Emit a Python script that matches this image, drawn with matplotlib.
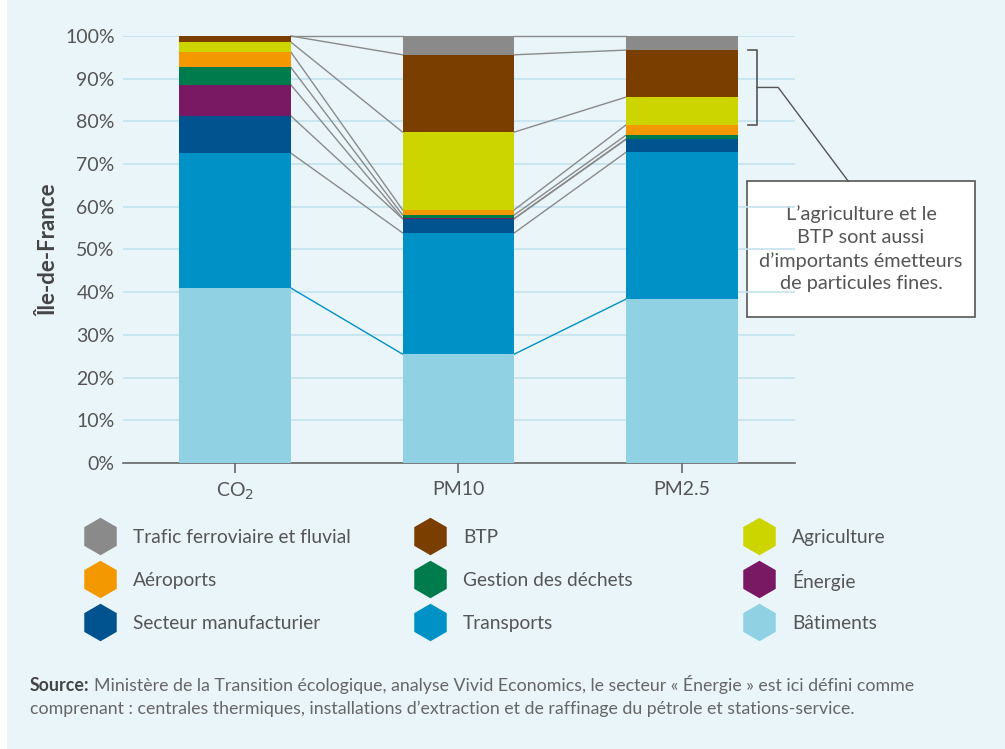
import matplotlib
matplotlib.use("Agg")
import matplotlib.pyplot as plt
import numpy as np
from matplotlib.patches import Rectangle

plt.rcParams["font.family"] = ["Lato", "DejaVu Sans"]

# data (share of emissions, %)
pollutants = ["CO$_2$", "PM10", "PM2.5"]
sectors = ["Bâtiments", "Transports", "Secteur manufacturier", "Énergie",
           "Gestion des déchets", "Aéroports", "Agriculture", "BTP",
           "Trafic ferroviaire et fluvial"]
batiments = [41.0, 25.5, 38.4]
transports = [31.6, 28.4, 34.4]
manufacturier = [8.7, 3.3, 3.0]
energie = [7.3, 0.1, 0.1]
dechets = [4.1, 0.8, 0.9]
aeroports = [3.6, 1.2, 2.4]
agriculture = [2.3, 18.2, 6.5]
btp = [1.4, 18.1, 11.0]
ferroviaire = [0.0, 4.4, 3.3]
series = [batiments, transports, manufacturier, energie, dechets,
          aeroports, agriculture, btp, ferroviaire]
colors = ["#90d1e3", "#0091c7", "#00538f", "#791863", "#007b4b",
          "#f49800", "#cdd500", "#7a3e00", "#8a8a8a"]

legend_order = [8, 7, 6, 5, 4, 3, 2, 1, 0]
note = "L\u2019agriculture et le\nBTP sont aussi\nd\u2019importants émetteurs\nde particules fines."
source_bold = "Source:"
source_text = ("Ministère de la Transition écologique, analyse Vivid Economics, le secteur « Énergie » est ici défini comme",
               "comprenant : centrales thermiques, installations d\u2019extraction et de raffinage du pétrole et stations-service.")

W, H = 1005, 749
BG = "#eaf5fa"
TXT = "#555555"
fig = plt.figure(figsize=(W / 100, H / 100), dpi=100, facecolor="white")
bgax = fig.add_axes([0, 0, 1, 1], zorder=-5)
bgax.set_xlim(0, W)
bgax.set_ylim(H, 0)
bgax.axis("off")
bgax.add_patch(Rectangle((7, 0), W - 7, H, color=BG, lw=0))

ax = fig.add_axes([123 / W, 1 - 463 / H, 672 / W, 427 / H])
ax.set_facecolor("none")
x = np.arange(len(pollutants))
bw = 0.5
bottom = np.zeros(len(pollutants))
tops = []
for vals, c in zip(series, colors):
    v = np.array(vals)
    ax.bar(x, v, bw, bottom=bottom, color=c, zorder=3, lw=0)
    bottom = bottom + v
    tops.append(bottom.copy())
tops = np.array(tops) * 100 / bottom  # normalise to 100

# connector lines between bars
for i, t in enumerate(tops):
    c = "#0091c7" if i == 0 else "#8a8a8a"
    for j in range(len(pollutants) - 1):
        ax.plot([x[j] + bw / 2, x[j + 1] - bw / 2], [t[j], t[j + 1]],
                color=c, lw=1.0, zorder=2, clip_on=False)

ax.set_xlim(-0.5, 2.505)
ax.set_ylim(0, 100)
ax.set_yticks(np.arange(0, 101, 10))
ax.set_yticklabels([f"{v}%" for v in range(0, 101, 10)], fontsize=14, color=TXT)
ax.set_xticks(x)
ax.set_xticklabels(pollutants, fontsize=14, color=TXT)
ax.tick_params(axis="y", length=0, pad=6)
ax.tick_params(axis="x", length=7, width=1.2, color="#666666", pad=6)
ax.grid(axis="y", color="#c3e3ef", lw=1.2, zorder=0)
for s in ["top", "right", "left"]:
    ax.spines[s].set_visible(False)
ax.spines["bottom"].set_color("#666666")
ax.spines["bottom"].set_linewidth(1.2)
ax.set_ylabel("Île-de-France", fontsize=16, fontweight="bold", color="#444444", labelpad=4)

# bracket around agriculture + BTP of PM2.5
y_lo = tops[5][2]
y_hi = tops[7][2]
bx = 2.335
ax.plot([bx - 0.04, bx, bx, bx - 0.04], [y_hi, y_hi, y_lo, y_lo], color="#555555", lw=1.2, clip_on=False)
ym = (y_lo + y_hi) / 2
ax.plot([bx, 2.43, 2.743], [ym, ym, 66.0], color="#555555", lw=1.0, clip_on=False)

# annotation box
bgax.add_patch(Rectangle((747, 181), 228, 136, facecolor="white", edgecolor="#555555", lw=1.2, zorder=5))
bgax.text(861, 249, note, ha="center", va="center", fontsize=14.3, color=TXT,
          linespacing=1.4, zorder=6)

# legend
cols = [100, 430, 759]
rows = [536, 579, 622]
for k, idx in enumerate(legend_order):
    cx = cols[k % 3]
    cy = rows[k // 3]
    bgax.plot(cx, cy, marker="h", markersize=27, color=colors[idx], mew=0)
    bgax.text(cx + 33, cy, sectors[idx], va="center_baseline", ha="left", fontsize=13.8, color=TXT)

# source
fig.canvas.draw()
r = fig.canvas.get_renderer()
t0 = bgax.text(30, 691, source_bold, fontsize=12.8, fontweight="bold", color="#444444", va="baseline")
bb = t0.get_window_extent(renderer=r)
bgax.text(30 + bb.width + 4, 691, source_text[0], fontsize=12.8, color="#666666", va="baseline")
bgax.text(30, 714, source_text[1], fontsize=12.8, color="#666666", va="baseline")

fig.savefig("out.png", dpi=100, facecolor=fig.get_facecolor())
